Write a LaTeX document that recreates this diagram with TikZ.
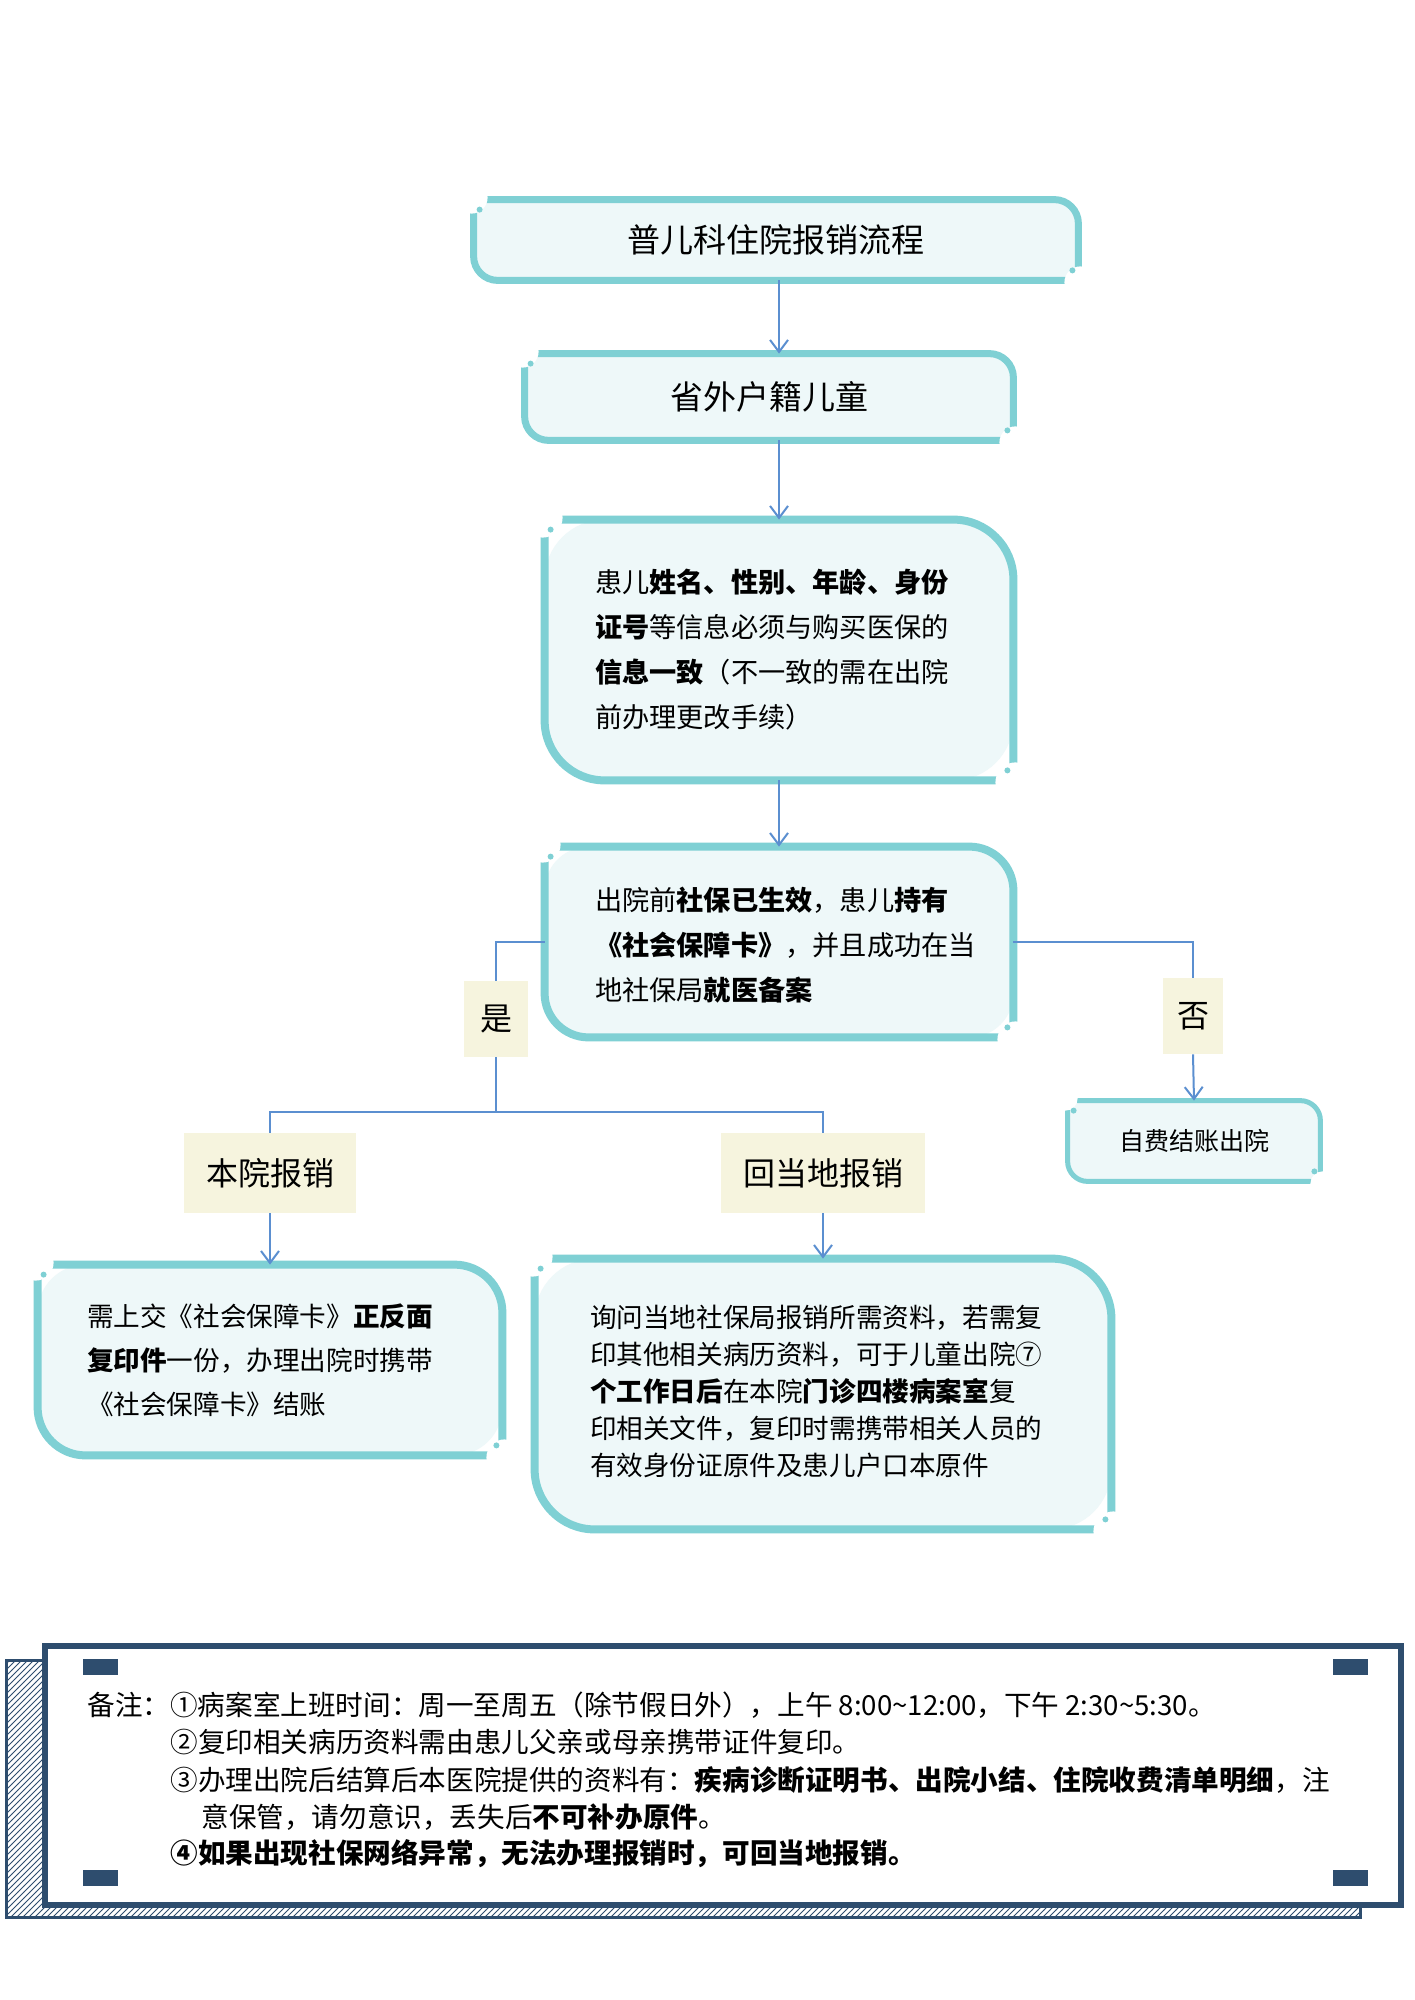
\documentclass[tikz,border=0pt]{standalone}
\usepackage{fontspec}
\setmainfont{Noto Sans CJK SC}
\usetikzlibrary{arrows.meta,patterns}
\definecolor{teal1}{HTML}{7FD0D4}
\definecolor{fillb}{HTML}{EEF8F9}
\definecolor{arr}{HTML}{5B8FD0}
\definecolor{lab}{HTML}{F6F4DE}
\definecolor{navy}{HTML}{2E4D6E}
\tikzset{
 tbox/.style={inner sep=0pt},
 lbox/.style={fill=lab,inner sep=0pt},
 conn/.style={draw=arr,line width=1pt},
 arrw/.style={conn,-{Straight Barb[length=6pt,width=9pt]}},
 txt/.style={align=left},
 note/.style={anchor=west,font=\fontsize{13.8}{16}\selectfont,inner sep=0pt}
}
% #1 node name, #2 radius, #3 line width, #4 bite radius
\newcommand\frm[4]{%
 \fill[fillb,rounded corners=#2] (#1.north west) -- (#1.north east) -- (#1.south east) -- (#1.south west) -- cycle;
 \draw[teal1,line width=#3,line cap=rect,rounded corners=#2] (#1.north west) -- (#1.north east) -- (#1.south east);
 \draw[teal1,line width=#3,line cap=rect,rounded corners=#2] (#1.south east) -- (#1.south west) -- (#1.north west);
 \fill[white] ([shift={(-1pt,1pt)}]#1.north west) circle (#4);
 \fill[white] ([shift={(1pt,-1pt)}]#1.south east) circle (#4);
 \fill[teal1] ([shift={(3pt,-5pt)}]#1.north west) circle (1.5pt);
 \fill[teal1] ([shift={(-3pt,5pt)}]#1.south east) circle (1.5pt);}
\begin{document}
\begin{tikzpicture}[x=0.5pt,y=-0.5pt]
\useasboundingbox[fill=white] (0,0) rectangle (1414,2000);
\path (776,240) node[tbox,minimum width=302pt,minimum height=40pt] (t) {}
      (769,397) node[tbox,minimum width=244pt,minimum height=43pt] (b2) {}
      (779,650) node[tbox,minimum width=234pt,minimum height=130pt] (b3) {}
      (779,942) node[tbox,minimum width=234pt,minimum height=95pt] (b4) {}
      (1194,1141) node[tbox,minimum width=126pt,minimum height=40pt] (zf) {}
      (270,1360) node[tbox,minimum width=232pt,minimum height=95pt] (lb) {}
      (823,1394) node[tbox,minimum width=288pt,minimum height=135pt] (rb) {};
\frm{t}{12pt}{3.5pt}{8pt}
\frm{b2}{12pt}{3.5pt}{8pt}
\frm{b3}{30pt}{4pt}{10pt}
\frm{b4}{22pt}{4pt}{9pt}
\frm{zf}{10pt}{2.5pt}{6pt}
\frm{lb}{24pt}{4pt}{9pt}
\frm{rb}{30pt}{4pt}{10pt}
\node[font=\fontsize{16.5}{18}\selectfont] at (t) {普儿科住院报销流程};
\node[font=\fontsize{16.5}{18}\selectfont] at (b2) {省外户籍儿童};
\node[txt,font=\fontsize{13.6}{22.5}\selectfont,anchor=west] at (588,650) {患儿\textbf{姓名、性别、年龄、身份}\\\textbf{证号}等信息必须与购买医保的\\\textbf{信息一致}（不一致的需在出院\\前办理更改手续）};
\node[txt,font=\fontsize{13.6}{22.5}\selectfont,anchor=west] at (588,945) {出院前\textbf{社保已生效}，患儿\textbf{持有}\\\textbf{《社会保障卡》}，并且成功在当\\地社保局\textbf{就医备案}};
\node[font=\fontsize{12.5}{14}\selectfont] at (zf) {自费结账出院};
\node[txt,font=\fontsize{13.3}{22}\selectfont,anchor=west] at (80,1360) {需上交《社会保障卡》\textbf{正反面}\\\textbf{复印件}一份，办理出院时携带\\《社会保障卡》结账};
\node[txt,font=\fontsize{13.3}{18.5}\selectfont,anchor=west] at (583,1391) {询问当地社保局报销所需资料，若需复\\印其他相关病历资料，可于儿童出院⑦\\\textbf{个工作日后}在本院\textbf{门诊四楼病案室}复\\印相关文件，复印时需携带相关人员的\\有效身份证原件及患儿户口本原件};
\node[lbox,minimum width=32pt,minimum height=38pt,font=\fontsize{16}{18}\selectfont] (yes) at (496,1019) {是};
\node[lbox,minimum width=30pt,minimum height=38pt,font=\fontsize{16}{18}\selectfont] (no) at (1193,1016) {否};
\node[lbox,minimum width=86pt,minimum height=40pt,font=\fontsize{16}{18}\selectfont] (by) at (270,1173) {本院报销};
\node[lbox,minimum width=102pt,minimum height=40pt,font=\fontsize{16}{18}\selectfont] (hd) at (823,1173) {回当地报销};
\coordinate (cx) at (779,0);
\draw[arrw] (t.south -| cx) -- (b2.north -| cx);
\draw[arrw] (b2.south -| cx) -- (b3.north -| cx);
\draw[arrw] (b3.south) -- (b4.north);
\draw[conn] (b4.west) -| (yes.north);
\coordinate (j) at (496,1112);
\draw[conn] (yes.south) -- (j);
\draw[conn] (by.north) |- (j) -| (hd.north);
\draw[arrw] (by.south) -- (lb.north);
\draw[arrw] (hd.south) -- (rb.north);
\draw[conn] (b4.east) -| (no.north);
\draw[arrw] (no.south) -- (zf.north);
\filldraw[pattern=north east lines,pattern color=navy,draw=navy,line width=1.5pt] (6,1660) rectangle (1360,1917);
\draw[navy,line width=3pt,fill=white] (45,1646) rectangle (1401,1905);
\foreach \x in {83,1333} \foreach \y in {1659,1870} \fill[navy] (\x,\y) rectangle ++(35,16);
\node[note] at (87,1705) {备注：①病案室上班时间：周一至周五（除节假日外），上午 8:00\textasciitilde12:00，下午 2:30\textasciitilde5:30。};
\node[note] at (170,1742) {②复印相关病历资料需由患儿父亲或母亲携带证件复印。};
\node[note] at (170,1780) {③办理出院后结算后本医院提供的资料有：\textbf{疾病诊断证明书、出院小结、住院收费清单明细}，注};
\node[note] at (201,1817) {意保管，请勿意识，丢失后\textbf{不可补办原件}。};
\node[note] at (170,1854) {\textbf{④如果出现社保网络异常，无法办理报销时，可回当地报销。}};
\end{tikzpicture}
\end{document}
